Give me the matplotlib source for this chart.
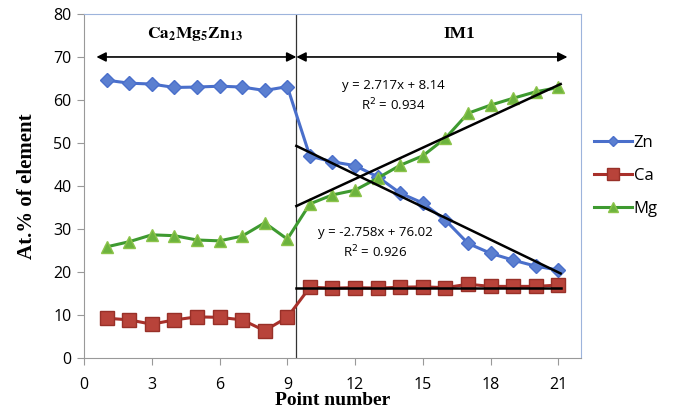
import matplotlib.pyplot as plt
import numpy as np

# data
points = np.arange(1, 22)
zn = [64.6, 63.9, 63.7, 62.9, 63.0, 63.2, 63.0, 62.2, 63.1, 46.9, 45.6,
      44.7, 42.1, 38.3, 36.0, 32.0, 26.6, 24.3, 22.7, 21.3, 20.4]
ca = [9.2, 8.8, 7.8, 8.8, 9.5, 9.4, 8.8, 6.3, 9.4, 16.4, 16.2,
      16.3, 16.2, 16.4, 16.5, 16.3, 17.1, 16.6, 16.6, 16.6, 16.9]
mg = [25.8, 27.0, 28.6, 28.4, 27.4, 27.2, 28.3, 31.4, 27.6, 35.8, 37.9,
      39.0, 41.8, 44.8, 47.0, 51.1, 56.9, 58.8, 60.4, 61.9, 62.9]

# trend lines as drawn in the figure (start/end of IM1 region)
trend_x = [9.4, 21.1]
zn_trend = [49.3, 19.6]
ca_trend = [16.2, 16.2]
mg_trend = [35.3, 63.7]

xticks = [0, 3, 6, 9, 12, 15, 18, 21]
yticks = [0, 10, 20, 30, 40, 50, 60, 70, 80]
boundary = 9.4

fig = plt.figure(figsize=(6.73, 4.17), dpi=100)
ax = fig.add_axes([0.1248, 0.1422, 0.7385, 0.8242])

ax.plot(points, zn, color='#4A6FCB', lw=2.2, marker='D', ms=7,
        mfc='#5B7FD0', mec='#4A6FCB', label='Zn', zorder=3)
ax.plot(points, ca, color='#A8302A', lw=2.2, marker='s', ms=10,
        mfc='#B8433A', mec='#983028', label='Ca', zorder=3)
ax.plot(points, mg, color='#3E9A30', lw=2.2, marker='^', ms=9,
        mfc='#6CB33E', mec='#8CC34A', label='Mg', zorder=3)

for tr in (zn_trend, ca_trend, mg_trend):
    ax.plot(trend_x, tr, color='black', lw=1.8, zorder=4)

ax.axvline(boundary, color='#333333', lw=0.9, zorder=2)

# phase arrows and labels
arr = dict(arrowstyle='<|-|>', color='black', lw=1.2, mutation_scale=14,
           shrinkA=0, shrinkB=0)
ax.annotate('', xy=(0.55, 70), xytext=(boundary, 70), arrowprops=arr)
ax.annotate('', xy=(boundary, 70), xytext=(21.4, 70), arrowprops=arr)
ax.text(4.9, 75.4, r'$\mathbf{Ca_2Mg_5Zn_{13}}$', ha='center', va='center',
        fontsize=12.5, math_fontfamily='stix')
ax.text(16.6, 75.4, 'IM1', ha='center', va='center', fontsize=12.5,
        family='Liberation Serif', weight='bold')

ax.text(13.7, 60.8, 'y = 2.717x + 8.14\nR$^2$ = 0.934', ha='center', va='center',
        fontsize=9.5, family='Open Sans', linespacing=1.35)
ax.text(12.9, 26.7, 'y = -2.758x + 76.02\nR$^2$ = 0.926', ha='center', va='center',
        fontsize=9.5, family='Open Sans', linespacing=1.35)

ax.set_xlim(0, 22)
ax.set_ylim(0, 80)
ax.set_xticks(xticks)
ax.set_yticks(yticks)
for lab in ax.get_xticklabels() + ax.get_yticklabels():
    lab.set_family('Open Sans')
    lab.set_fontsize(11.5)
ax.tick_params(axis='x', length=5, pad=9, color='#999999')
ax.tick_params(axis='y', length=5, pad=4, color='#999999')

for s in ('left', 'bottom'):
    ax.spines[s].set_color('#999999')
for s in ('top', 'right'):
    ax.spines[s].set_color('#9DB4DC')

ax.set_xlabel('Point number', family='Liberation Serif', weight='bold',
              fontsize=14, labelpad=-1)
ax.set_ylabel('At.% of element', family='Liberation Serif', weight='bold',
              fontsize=15, labelpad=12)

leg = fig.legend(handles=ax.get_lines()[:3], loc='center left',
                 bbox_to_anchor=(0.882, 0.578), frameon=False, borderpad=0,
                 borderaxespad=0, prop={'family': 'Open Sans', 'size': 12},
                 handlelength=2.3, handletextpad=0.1, labelspacing=1.0,
                 markerscale=0.8)

fig.savefig('out.png', dpi=100)
